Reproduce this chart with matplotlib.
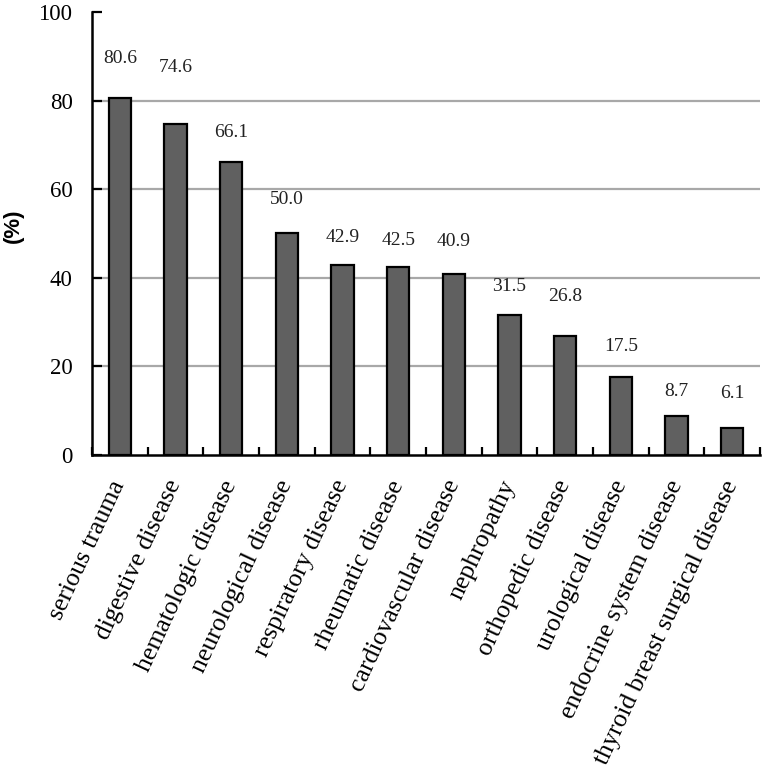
import matplotlib
matplotlib.use("Agg")
import matplotlib.pyplot as plt
import numpy as np

categories = [
    "serious trauma",
    "digestive disease",
    "hematologic disease",
    "neurological disease",
    "respiratory disease",
    "rheumatic disease",
    "cardiovascular disease",
    "nephropathy",
    "orthopedic disease",
    "urological disease",
    "endocrine system disease",
    "thyroid breast surgical disease",
]
rates = [80.6, 74.6, 66.1, 50.0, 42.9, 42.5, 40.9, 31.5, 26.8, 17.5, 8.7, 6.1]
# gap between the bar top and its value label (in %)
label_gap = [8.8, 12.8, 6.6, 7.6, 6.1, 6.0, 7.2, 6.6, 8.9, 6.9, 5.7, 7.7]
y_ticks = [0, 20, 40, 60, 80, 100]

serif = "Liberation Serif"

fig = plt.figure(figsize=(7.64, 7.76), dpi=100)
ax = fig.add_axes([0.1204, 0.4137, 0.8744, 0.5709])

x = np.arange(len(categories))
ax.bar(x, rates, width=0.4, color="#606060", edgecolor="black", linewidth=1.6, zorder=3)

for xi, v, g in zip(x, rates, label_gap):
    ax.text(xi, v + g, f"{v:.1f}", ha="center", va="center",
            fontsize=14, family=serif, color="#222222")

ax.set_xlim(-0.5, len(categories) - 0.5)
ax.set_ylim(0, 100)
ax.set_yticks(y_ticks)
ax.set_yticklabels([str(t) for t in y_ticks], fontsize=16.5, family=serif)
# grey lines at 20..80 only, none on the top
for t in y_ticks[1:-1]:
    ax.axhline(t, color="#a8a8a8", linewidth=1.6, zorder=0)

ax.set_xticks(x)
ax.set_xticklabels(categories, rotation=65, ha="right", va="center",
                   rotation_mode="anchor", fontsize=18.5, family=serif)
ax.set_xticks(np.arange(-0.5, len(categories)), minor=True)
ax.tick_params(axis="x", which="major", length=0, pad=19)
ax.tick_params(axis="x", which="minor", direction="in", length=6, width=1.6)
ax.tick_params(axis="y", direction="in", length=7, width=1.6, pad=14)

for s in ["top", "right"]:
    ax.spines[s].set_visible(False)
for s in ["left", "bottom"]:
    ax.spines[s].set_linewidth(1.8)

ax.set_ylabel("(%)", fontsize=16, fontweight="bold", family="Liberation Sans",
              va="center")
ax.yaxis.set_label_coords(-0.118, 0.517)

fig.savefig("out.png", dpi=100, facecolor="white")
